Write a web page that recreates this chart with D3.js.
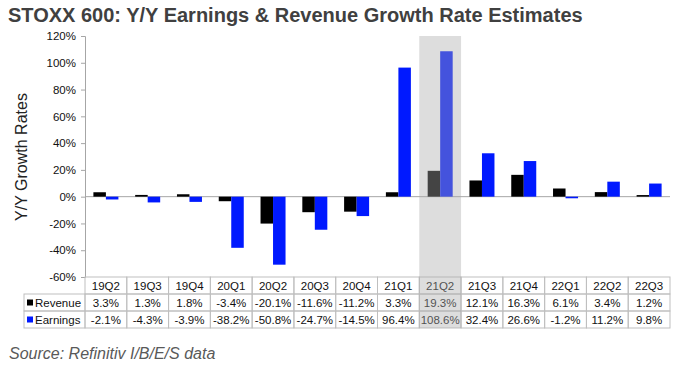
<!DOCTYPE html>
<html>
<head>
<meta charset="utf-8">
<script src="https://cdn.jsdelivr.net/npm/d3@7"></script>
<style>
  body { margin: 0; background: #fff; }
  text { font-family: "Liberation Sans", Arial, sans-serif; }
</style>
</head>
<body>
<div id="chart"></div>
<script>
    // chart data
    var quarters = ["19Q2", "19Q3", "19Q4", "20Q1", "20Q2", "20Q3", "20Q4",
                    "21Q1", "21Q2", "21Q3", "21Q4", "22Q1", "22Q2", "22Q3"];
    var revenue = [3.3, 1.3, 1.8, -3.4, -20.1, -11.6, -11.2, 3.3, 19.3, 12.1, 16.3, 6.1, 3.4, 1.2];
    var earnings = [-2.1, -4.3, -3.9, -38.2, -50.8, -24.7, -14.5, 96.4, 108.6, 32.4, 26.6, -1.2, 11.2, 9.8];
    var yTicks = [-60, -40, -20, 0, 20, 40, 60, 80, 100, 120];
    var highlight = "21Q2";

(function() {
    var width = 686,
        height = 376;

    var svg = d3.select("#chart")
        .append("svg")
        .attr("width", width)
        .attr("height", height);

    var left = 85, right = 670, plotTop = 36, bottom = 277;

    var x = d3.scaleBand()
        .domain(quarters)
        .range([left, right]);

    var y = d3.scaleLinear()
        .domain([-60, 120])
        .range([bottom, plotTop]);

    // title
    svg.append("text")
        .attr("x", 8)
        .attr("y", 22)
        .style("font-size", "20px")
        .style("font-weight", "bold")
        .style("fill", "#404040")
        .text("STOXX 600: Y/Y Earnings & Revenue Growth Rate Estimates");

    // y axis label
    svg.append("text")
        .attr("transform", "translate(27," + 157 + ") rotate(-90)")
        .style("text-anchor", "middle")
        .style("font-size", "16px")
        .style("fill", "#222")
        .text("Y/Y Growth Rates");

    // y axis
    var yAxis = svg.append("g")
        .attr("transform", "translate(" + left + ",0)")
        .call(d3.axisLeft(y).tickValues(yTicks).tickSize(4).tickPadding(5)
            .tickFormat(function(d) { return d + "%"; }));
    yAxis.select(".domain").attr("stroke", "#a6a6a6");
    yAxis.selectAll(".tick line").attr("stroke", "#a6a6a6");
    yAxis.selectAll(".tick text")
        .style("font-size", "11.5px")
        .style("font-family", "Liberation Sans, Arial, sans-serif")
        .style("fill", "#111");

    // zero line
    svg.append("line")
        .attr("x1", left).attr("x2", right)
        .attr("y1", y(0)).attr("y2", y(0))
        .attr("stroke", "#a6a6a6");

    var barW = 12.5;

    // revenue bars
    svg.append("g").selectAll("rect")
        .data(revenue)
        .enter()
        .append("rect")
        .attr("x", function(d, i) { return x(quarters[i]) + x.bandwidth() / 2 - barW; })
        .attr("y", function(d) { return y(Math.max(0, d)); })
        .attr("width", barW)
        .attr("height", function(d) { return Math.abs(y(d) - y(0)); })
        .style("fill", "#000");

    // earnings bars
    svg.append("g").selectAll("rect")
        .data(earnings)
        .enter()
        .append("rect")
        .attr("x", function(d, i) { return x(quarters[i]) + x.bandwidth() / 2; })
        .attr("y", function(d) { return y(Math.max(0, d)); })
        .attr("width", barW)
        .attr("height", function(d) { return Math.abs(y(d) - y(0)); })
        .style("fill", "#0019ff");

    // data table
    var rowH = 17;
    var tTop = bottom;
    var labelLeft = 24;
    var rows = [
        { name: "Revenue", color: "#000", values: revenue },
        { name: "Earnings", color: "#0019ff", values: earnings }
    ];
    var table = svg.append("g");
    var border = "#bfbfbf";

    // header cells
    quarters.forEach(function(q) {
        table.append("rect")
            .attr("x", x(q)).attr("y", tTop)
            .attr("width", x.bandwidth()).attr("height", rowH)
            .style("fill", "none").style("stroke", border);
        table.append("text")
            .attr("x", x(q) + x.bandwidth() / 2)
            .attr("y", tTop + rowH / 2)
            .attr("dy", "0.35em")
            .style("text-anchor", "middle")
            .style("font-size", "11.5px")
            .style("fill", "#111")
            .text(q);
    });

    rows.forEach(function(r, ri) {
        var ry = tTop + rowH * (ri + 1);
        table.append("rect")
            .attr("x", labelLeft).attr("y", ry)
            .attr("width", left - labelLeft).attr("height", rowH)
            .style("fill", "none").style("stroke", border);
        table.append("rect")
            .attr("x", labelLeft + 3).attr("y", ry + rowH / 2 - 3)
            .attr("width", 6).attr("height", 6)
            .style("fill", r.color);
        table.append("text")
            .attr("x", labelLeft + 11)
            .attr("y", ry + rowH / 2)
            .attr("dy", "0.35em")
            .style("font-size", "11.5px")
            .style("fill", "#111")
            .text(r.name);
        r.values.forEach(function(v, i) {
            var q = quarters[i];
            table.append("rect")
                .attr("x", x(q)).attr("y", ry)
                .attr("width", x.bandwidth()).attr("height", rowH)
                .style("fill", "none").style("stroke", border);
            table.append("text")
                .attr("x", x(q) + x.bandwidth() / 2)
                .attr("y", ry + rowH / 2)
                .attr("dy", "0.35em")
                .style("text-anchor", "middle")
                .style("font-size", "11.5px")
                .style("fill", "#111")
                .text(v.toFixed(1) + "%");
        });
    });

    // highlighted quarter
    svg.append("rect")
        .attr("x", x(highlight))
        .attr("y", plotTop)
        .attr("width", x.bandwidth())
        .attr("height", tTop + rowH * 3 - plotTop)
        .style("fill", "rgba(170,170,170,0.4)");

    // source note
    svg.append("text")
        .attr("x", 9)
        .attr("y", 359)
        .style("font-size", "16px")
        .style("font-style", "italic")
        .style("fill", "#595959")
        .text("Source: Refinitiv I/B/E/S data");
})();
</script>
</body>
</html>
